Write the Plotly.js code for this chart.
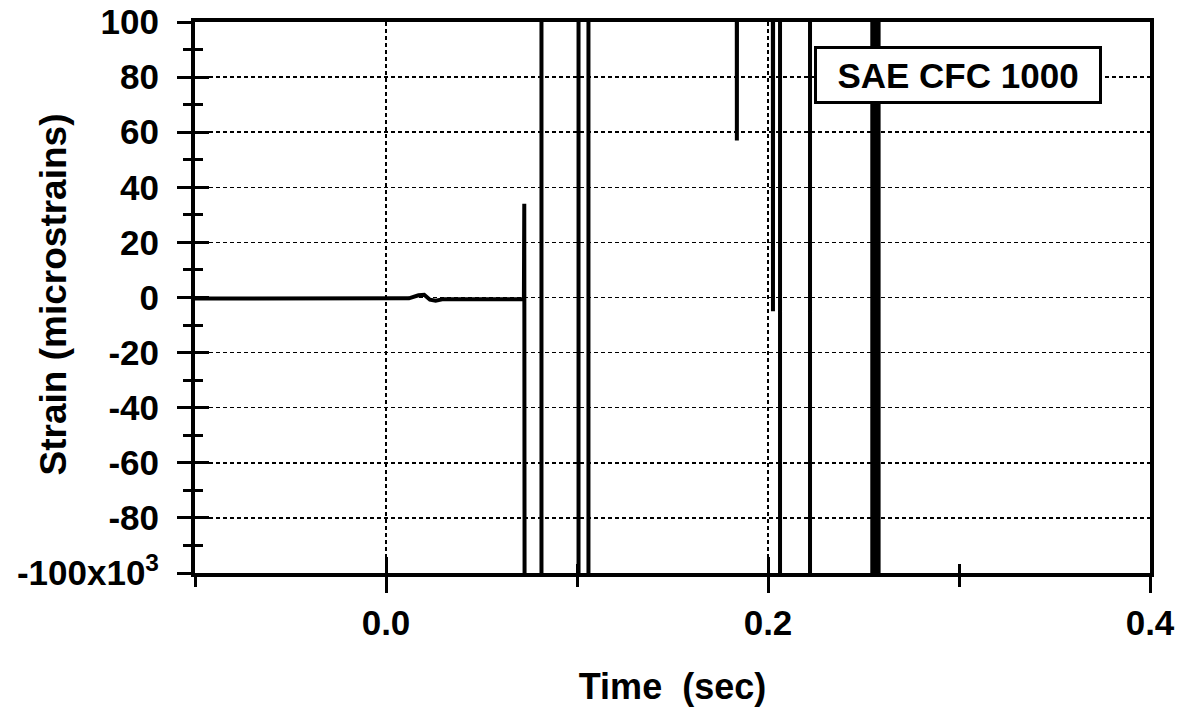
<!DOCTYPE html>
<html>
<head>
<meta charset="utf-8">
<script src="https://cdn.plot.ly/plotly-3.0.1.min.js"></script>
<style>html,body{margin:0;padding:0;background:#fff;}#chart{width:1185px;height:717px;}</style>
</head>
<body>
<div id="chart"></div>
<script>
// Time (sec) and strain (x10^3 microstrains); off-scale excursions estimated at +/-150
var timeSec = [-0.1, 0.0, 0.012, 0.017, 0.020, 0.023, 0.026, 0.030, 0.050, 0.0722,
  0.0724, 0.0726,
  0.0814, 0.0814,
  0.1008, 0.1008, 0.1060, 0.1060,
  0.1836, 0.1837, 0.1838,
  0.2025, 0.2026, 0.2027,
  0.2063, 0.2063, 0.2220, 0.2220,
  0.2546, 0.2546, 0.2557, 0.2557, 0.2568, 0.2568, 0.2579, 0.2579,
  0.4];
var strain = [-0.4, -0.5, -0.3, 0.8, 1.0, -0.8, -1.2, -0.6, -0.5, -0.6,
  34, -150,
  -150, 150,
  150, -150, -150, 150,
  150, 57, 150,
  150, -5, 150,
  150, -150, -150, 150,
  150, -150, -150, 150, 150, -150, -150, 150,
  150];

var yTickVals = [-100, -80, -60, -40, -20, 0, 20, 40, 60, 80, 100];
var yTickText = ['-100x10<sup>3</sup>', '-80', '-60', '-40', '-20', '0', '20', '40', '60', '80', '100'];
var xTickVals = [0.0, 0.2, 0.4];
var xTickText = ['0.0', '0.2', '0.4'];

var xTitle = 'Time  (sec)';
var yTitle = 'Strain (microstrains)';
var labelText = 'SAE CFC 1000';

var FONT = 'Liberation Sans, Arial, Helvetica, sans-serif';

var traces = [
  {x: timeSec, y: strain, type: 'scatter', mode: 'lines',
   line: {color: '#000', width: 4}, hoverinfo: 'skip', showlegend: false},
  {x: [], y: [], xaxis: 'x2', yaxis: 'y2', type: 'scatter', mode: 'lines', showlegend: false}
];

var layout = {
  width: 1185, height: 717,
  margin: {l: 195, r: 35, t: 22, b: 144},
  paper_bgcolor: '#fff', plot_bgcolor: '#fff',
  font: {family: FONT, color: '#000', size: 34, weight: 700},
  showlegend: false,
  xaxis: {
    range: [-0.1, 0.4], tickmode: 'array', tickvals: xTickVals, ticktext: xTickText,
    ticks: 'outside', ticklen: 16, tickwidth: 3, tickcolor: '#000',
    minor: {tickmode: 'linear', tick0: 0, dtick: 0.1, ticks: 'outside', ticklen: 10, tickwidth: 3, tickcolor: '#000', showgrid: false},
    showgrid: true, gridcolor: '#000', gridwidth: 1.5, griddash: '4px,3px',
    showline: true, linecolor: '#000', linewidth: 4, mirror: true,
    zeroline: false, automargin: false,
    tickfont: {family: FONT, size: 35, weight: 700},
    title: {text: xTitle, font: {family: FONT, size: 36, weight: 700}, standoff: 34}
  },
  yaxis: {
    range: [-100, 100], tickmode: 'array', tickvals: yTickVals, ticktext: yTickText,
    ticks: 'outside', ticklen: 14, tickwidth: 3, tickcolor: '#000',
    minor: {tickmode: 'linear', tick0: 0, dtick: 10, ticks: 'outside', ticklen: 8, tickwidth: 3, tickcolor: '#000', showgrid: false},
    showgrid: true, gridcolor: '#000', gridwidth: 1.5, griddash: '4px,3px',
    showline: true, linecolor: '#000', linewidth: 4, mirror: true,
    zeroline: false, automargin: false, ticklabelstandoff: 11,
    tickfont: {family: FONT, size: 35, weight: 700}
  },
  xaxis2: {
    overlaying: 'x', anchor: 'y', side: 'bottom', range: [-0.1, 0.4],
    tickmode: 'array', tickvals: xTickVals, showticklabels: false,
    ticks: 'inside', ticklen: 16, tickwidth: 3, tickcolor: '#000',
    minor: {tickmode: 'linear', tick0: 0, dtick: 0.1, ticks: 'inside', ticklen: 9, tickwidth: 3, tickcolor: '#000', showgrid: false},
    showgrid: false, showline: false, zeroline: false
  },
  yaxis2: {
    overlaying: 'y', anchor: 'x', side: 'left', range: [-100, 100],
    tickmode: 'array', tickvals: yTickVals, showticklabels: false,
    ticks: 'inside', ticklen: 14, tickwidth: 3, tickcolor: '#000',
    minor: {tickmode: 'linear', tick0: 0, dtick: 10, ticks: 'inside', ticklen: 8, tickwidth: 3, tickcolor: '#000', showgrid: false},
    showgrid: false, showline: false, zeroline: false
  },
  annotations: [
    {text: yTitle, textangle: -90, xref: 'paper', yref: 'paper', x: -0.148, y: 0.505,
     xanchor: 'center', yanchor: 'middle', showarrow: false,
     font: {family: FONT, size: 37, weight: 700, color: '#000'}},
    {text: labelText, xref: 'paper', yref: 'paper', x: 0.799, y: 0.903,
     xanchor: 'center', yanchor: 'middle', showarrow: false,
     bgcolor: '#fff', bordercolor: '#000', borderwidth: 3, borderpad: 0,
     width: 282, height: 52,
     font: {family: FONT, size: 35, weight: 700, color: '#000'}}
  ]
};

Plotly.newPlot('chart', traces, layout, {displayModeBar: false, staticPlot: true});
</script>
</body>
</html>
